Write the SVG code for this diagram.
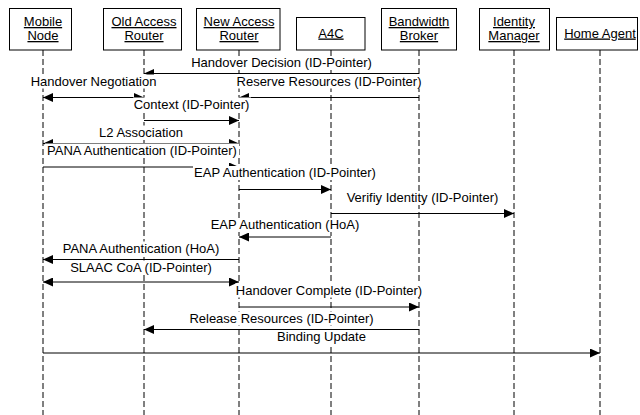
<svg xmlns="http://www.w3.org/2000/svg" width="640" height="415" viewBox="0 0 640 415">
<style>
text{font-family:"Liberation Sans",Arial,sans-serif;font-size:13px;fill:#000}
.node rect{fill:#fff;stroke:#000;stroke-width:1}
.node text{text-anchor:middle;text-decoration:underline}
.life{stroke:#000;stroke-width:1;stroke-dasharray:6,3;fill:none}
.msg{stroke:#000;stroke-width:1;fill:none}
.arr{marker-end:url(#ah)}
.bi{marker-start:url(#ah);marker-end:url(#ah)}
.lbl{text-anchor:middle}
.bg{fill:#fff;stroke:none}
</style>
<defs>
<marker id="ah" markerUnits="userSpaceOnUse" markerWidth="10" markerHeight="9" refX="10" refY="4.5" orient="auto-start-reverse" viewBox="0 0 10 9">
<path d="M0,0 L10,4.5 L0,9 z" fill="#000"/>
</marker>
</defs>
<rect width="640" height="415" fill="#fff"/>
<g id="mobile-node" class="node">
<line class="life" x1="43" y1="50" x2="43" y2="415"/>
<rect x="9.5" y="8.5" width="62" height="41.5"/>
<text x="43" y="26">Mobile</text>
<text x="43" y="40">Node</text>
</g>
<g id="old-access-router" class="node">
<line class="life" x1="144" y1="50" x2="144" y2="415"/>
<rect x="103.5" y="8.5" width="78" height="41.5"/>
<text x="144" y="26">Old Access</text>
<text x="144" y="40">Router</text>
</g>
<g id="new-access-router" class="node">
<line class="life" x1="239" y1="50" x2="239" y2="415"/>
<rect x="196.5" y="8.5" width="83.5" height="41.5"/>
<text x="239" y="26">New Access</text>
<text x="239" y="40">Router</text>
</g>
<g id="a4c" class="node">
<line class="life" x1="331" y1="50" x2="331" y2="415"/>
<rect x="296.5" y="17.5" width="68.5" height="32.5"/>
<text x="331" y="37.5">A4C</text>
</g>
<g id="bandwidth-broker" class="node">
<line class="life" x1="419" y1="50" x2="419" y2="415"/>
<rect x="381.5" y="8.5" width="75" height="41.5"/>
<text x="419" y="26">Bandwidth</text>
<text x="419" y="40">Broker</text>
</g>
<g id="identity-manager" class="node">
<line class="life" x1="514" y1="50" x2="514" y2="415"/>
<rect x="479.5" y="8.5" width="70" height="41.5"/>
<text x="514" y="26">Identity</text>
<text x="514" y="40">Manager</text>
</g>
<g id="home-agent" class="node">
<line class="life" x1="600" y1="50" x2="600" y2="415"/>
<rect x="556.5" y="17.5" width="81" height="32.5"/>
<text x="600" y="37.5">Home Agent</text>
</g>
<g id="connectors">
<line class="msg arr" x1="419" y1="73.5" x2="144" y2="73.5"/>
<line class="msg bi" x1="43" y1="97.5" x2="144" y2="97.5"/>
<line class="msg arr" x1="419" y1="97.5" x2="239" y2="97.5"/>
<line class="msg arr" x1="144" y1="120.5" x2="239" y2="120.5"/>
<line class="msg bi" x1="43" y1="143.5" x2="239" y2="143.5"/>
<line class="msg arr" x1="43" y1="167" x2="239" y2="167"/>
<line class="msg arr" x1="239" y1="189.5" x2="331" y2="189.5"/>
<line class="msg arr" x1="331" y1="213.5" x2="514" y2="213.5"/>
<line class="msg arr" x1="331" y1="237" x2="239" y2="237"/>
<line class="msg arr" x1="239" y1="259.5" x2="43" y2="259.5"/>
<line class="msg bi" x1="43" y1="282" x2="239" y2="282"/>
<line class="msg arr" x1="239" y1="307" x2="419" y2="307"/>
<line class="msg arr" x1="419" y1="329.5" x2="144" y2="329.5"/>
<line class="msg arr" x1="43" y1="353" x2="600" y2="353"/>
<rect class="bg" x="190" y="56" width="183" height="14"/>
<text class="lbl" x="281.5" y="67">Handover Decision (ID-Pointer)</text>
<rect class="bg" x="30" y="74.5" width="128" height="14"/>
<text class="lbl" x="93.5" y="85.5">Handover Negotiation</text>
<rect class="bg" x="236" y="74.5" width="187" height="14"/>
<text class="lbl" x="329" y="85.5">Reserve Resources (ID-Pointer)</text>
<rect class="bg" x="133" y="97.5" width="118" height="14"/>
<text class="lbl" x="191.5" y="108.5">Context (ID-Pointer)</text>
<rect class="bg" x="98" y="125.5" width="87" height="14"/>
<text class="lbl" x="141" y="136.5">L2 Association</text>
<rect class="bg" x="45" y="143.5" width="194" height="14"/>
<text class="lbl" x="142" y="154.5">PANA Authentication (ID-Pointer)</text>
<rect class="bg" x="193" y="166" width="185" height="14"/>
<text class="lbl" x="285" y="177">EAP Authentication (ID-Pointer)</text>
<rect class="bg" x="346" y="191" width="155" height="14"/>
<text class="lbl" x="422.5" y="202">Verifiy Identity (ID-Pointer)</text>
<rect class="bg" x="210" y="218" width="151" height="14"/>
<text class="lbl" x="285" y="229">EAP Authentication (HoA)</text>
<rect class="bg" x="61" y="241.5" width="161" height="14"/>
<text class="lbl" x="141" y="252.5">PANA Authentication (HoA)</text>
<rect class="bg" x="69" y="260.5" width="145" height="14"/>
<text class="lbl" x="141" y="271.5">SLAAC CoA (ID-Pointer)</text>
<rect class="bg" x="235" y="283.5" width="189" height="14"/>
<text class="lbl" x="329" y="294.5">Handover Complete (ID-Pointer)</text>
<rect class="bg" x="189" y="311.5" width="186" height="14"/>
<text class="lbl" x="281.5" y="322.5">Release Resources (ID-Pointer)</text>
<rect class="bg" x="276" y="330" width="91" height="14"/>
<text class="lbl" x="321.5" y="341">Binding Update</text>
</g>
</svg>
